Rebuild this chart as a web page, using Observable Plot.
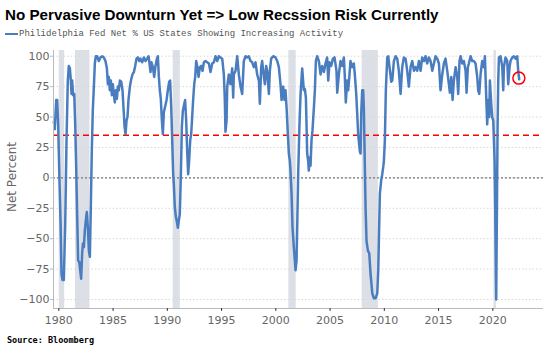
<!DOCTYPE html>
<html><head><meta charset="utf-8">
<script src="https://cdn.jsdelivr.net/npm/d3@7"></script>
<script src="https://cdn.jsdelivr.net/npm/@observablehq/plot@0.6"></script>
<style>
body{margin:0;background:#fff;}
#wrap{position:relative;width:550px;height:355px;overflow:hidden;background:#fff;}
#title{position:absolute;left:5px;top:6.7px;font:bold 15.2px "Liberation Sans",Arial,sans-serif;line-height:15px;color:#000;white-space:nowrap;}
#legend{position:absolute;left:5px;top:28px;height:12px;display:flex;align-items:center;font:9px "Liberation Mono",monospace;color:#555;white-space:nowrap;}
#legend .sw{width:13px;height:2.5px;background:#4a7dbf;margin-right:1px;}
#ylabel{position:absolute;left:12px;top:177px;transform:translate(-50%,-50%) rotate(-90deg);font:12px "DejaVu Sans",sans-serif;color:#666;white-space:nowrap;}
#source{position:absolute;left:7px;top:335px;font:bold 8.5px "DejaVu Sans Mono",monospace;line-height:10px;color:#000;white-space:nowrap;}
#chart{position:absolute;left:0;top:40px;}
</style></head>
<body>
<div id="wrap">
  <div id="title">No Pervasive Downturn Yet =&gt; Low Recssion Risk Currently</div>
  <div id="legend"><span class="sw"></span><span>Philidelphia Fed Net % US States Showing Increasing Activity</span></div>
  <div id="ylabel">Net Percent</div>
  <div id="chart"></div>
  <div id="source">Source: Bloomberg</div>
</div>
<script>
// ---- Data (decimal years, net percent) ----
const years1979_1993 = [1979.54,1979.63,1979.76,1979.85,1979.94,1980.06,1980.16,1980.25,1980.34,1980.46,1980.59,1980.71,1980.83,1980.92,1981.02,1981.11,1981.17,1981.23,1981.32,1981.42,1981.51,1981.60,1981.69,1981.78,1981.88,1981.97,1982.06,1982.15,1982.22,1982.31,1982.40,1982.49,1982.58,1982.68,1982.77,1982.86,1982.95,1983.04,1983.13,1983.23,1983.32,1983.41,1983.53,1983.69,1983.84,1984.00,1984.15,1984.30,1984.43,1984.52,1984.61,1984.70,1984.80,1984.89,1984.98,1985.07,1985.16,1985.26,1985.35,1985.44,1985.53,1985.63,1985.75,1985.87,1985.96,1986.06,1986.15,1986.24,1986.33,1986.42,1986.55,1986.67,1986.79,1986.92,1987.04,1987.16,1987.28,1987.41,1987.53,1987.68,1987.84,1987.99,1988.14,1988.27,1988.36,1988.45,1988.54,1988.67,1988.79,1988.91,1989.04,1989.13,1989.22,1989.31,1989.40,1989.50,1989.59,1989.68,1989.81,1989.93,1990.05,1990.17,1990.26,1990.36,1990.45,1990.54,1990.60,1990.69,1990.79,1990.88,1990.97,1991.06,1991.15,1991.25,1991.34,1991.43,1991.52,1991.64,1991.74,1991.83,1991.92,1992.01,1992.11,1992.20,1992.29,1992.38,1992.48,1992.57,1992.66,1992.75,1992.88,1993.00,1993.12,1993.25,1993.37,1993.52,1993.67,1993.83,1993.98];
const values1979_1993 = [46,40,64,64,44,-2,-37,-79,-84,-84,-38,31,80,92,90,80,69,80,68,69,44,9,-30,-68,-69,-76,-83,-62,-54,-57,-43,-35,-28,-41,-60,-65,-24,22,55,75,94,100,100,96,99,100,99,96,90,77,83,72,80,68,77,69,62,72,65,75,72,80,79,72,58,42,36,47,50,64,75,81,85,87,92,98,99,96,98,95,99,96,98,100,94,87,95,91,83,92,98,100,83,72,65,47,36,54,59,64,72,79,80,58,31,3,-5,-24,-32,-36,-41,-35,-30,3,42,55,59,64,47,22,3,14,31,36,50,64,77,83,96,92,83,91,92,88,95,96,95,94,87];

const years1994_2008 = [1994.14,1994.29,1994.44,1994.60,1994.75,1994.90,1995.06,1995.21,1995.30,1995.36,1995.46,1995.52,1995.67,1995.82,1995.98,1996.07,1996.13,1996.29,1996.44,1996.59,1996.75,1996.90,1997.05,1997.21,1997.36,1997.51,1997.67,1997.82,1997.98,1998.13,1998.28,1998.44,1998.53,1998.65,1998.74,1998.90,1998.99,1999.11,1999.20,1999.36,1999.45,1999.57,1999.76,1999.97,2000.13,2000.28,2000.43,2000.53,2000.68,2000.80,2000.89,2000.99,2001.11,2001.20,2001.29,2001.35,2001.45,2001.54,2001.66,2001.82,2001.91,2001.97,2002.06,2002.18,2002.28,2002.43,2002.58,2002.68,2002.77,2002.83,2002.89,2002.98,2003.04,2003.14,2003.20,2003.29,2003.38,2003.51,2003.60,2003.69,2003.81,2003.97,2004.12,2004.27,2004.43,2004.58,2004.73,2004.83,2004.95,2005.10,2005.26,2005.41,2005.59,2005.66,2005.81,2005.96,2006.12,2006.27,2006.36,2006.45,2006.58,2006.67,2006.79,2006.88,2007.04,2007.19,2007.28,2007.41,2007.50,2007.59,2007.74,2007.81,2007.87,2007.96,2008.05,2008.11];
const values1994_2008 = [94,95,100,96,100,99,98,85,64,38,47,75,85,77,90,66,85,88,100,85,75,69,96,100,99,100,96,95,91,95,85,80,61,91,96,83,77,92,88,69,88,98,100,99,96,91,77,64,75,64,72,58,36,20,14,6,-13,-41,-57,-76,-68,-41,3,44,69,90,72,73,66,44,20,14,6,17,10,31,39,58,72,96,100,96,85,92,87,94,99,80,95,92,98,99,88,70,85,96,92,99,83,62,80,72,85,96,91,94,85,69,53,36,22,20,53,72,72,58];

const years2008_2022 = [2008.27,2008.36,2008.49,2008.61,2008.73,2008.89,2009.04,2009.19,2009.35,2009.44,2009.53,2009.59,2009.71,2009.81,2009.90,2009.96,2010.05,2010.14,2010.27,2010.36,2010.48,2010.64,2010.73,2010.88,2011.04,2011.19,2011.34,2011.50,2011.65,2011.80,2011.96,2012.11,2012.26,2012.42,2012.57,2012.73,2012.88,2013.03,2013.19,2013.34,2013.49,2013.65,2013.80,2013.95,2014.11,2014.26,2014.42,2014.57,2014.72,2014.88,2015.03,2015.18,2015.34,2015.49,2015.64,2015.80,2015.95,2016.04,2016.17,2016.29,2016.41,2016.57,2016.72,2016.81,2016.93,2017.03,2017.18,2017.33,2017.49,2017.58,2017.70,2017.79,2017.95,2018.10,2018.26,2018.41,2018.56,2018.65,2018.75,2018.87,2019.02,2019.18,2019.27,2019.36,2019.48,2019.58,2019.67,2019.73,2019.85,2019.94,2020.04,2020.10,2020.16,2020.22,2020.28,2020.31,2020.38,2020.44,2020.50,2020.56,2020.71,2020.87,2020.96,2021.02,2021.17,2021.33,2021.42,2021.54,2021.63,2021.79,2021.94,2022.10,2022.25,2022.34,2022.43];
const values2008_2022 = [-24,-52,-60,-62,-79,-95,-99,-99,-95,-76,-38,-13,-2,3,9,14,31,72,99,100,91,79,80,96,100,98,88,69,91,99,98,88,75,91,96,88,91,88,96,88,99,96,100,94,99,96,88,94,100,98,94,72,85,94,98,88,77,70,83,64,80,91,83,69,96,100,94,96,88,70,91,94,100,96,96,94,83,72,69,85,96,91,100,75,44,64,50,80,61,50,47,31,14,-24,-79,-100,-24,44,80,99,100,91,72,91,99,96,77,91,96,99,100,98,100,88,81];

// NBER recessions (start, end as decimal years)
const recessionStarts = [1980.04, 1981.54, 1990.54, 2001.20, 2007.96, 2020.10];
const recessionEnds   = [1980.54, 1982.87, 1991.20, 2001.88, 2009.45, 2020.33];

const thresholdLevel = [35];
const zeroLevel = [0];
const highlightYear = [2022.40];
const highlightValue = [82];

const xTicks = [1980, 1985, 1990, 1995, 2000, 2005, 2010, 2015, 2020];
const yTicks = [-100, -75, -50, -25, 0, 25, 50, 75, 100];

// ---- Build tables ----
const years = [...years1979_1993, ...years1994_2008, ...years2008_2022];
const values = [...values1979_1993, ...values1994_2008, ...values2008_2022];
if (years1979_1993.length !== values1979_1993.length) throw new Error("seg1 " + years1979_1993.length + " vs " + values1979_1993.length);
if (years1994_2008.length !== values1994_2008.length) throw new Error("seg2 " + years1994_2008.length + " vs " + values1994_2008.length);
if (years2008_2022.length !== values2008_2022.length) throw new Error("seg3 " + years2008_2022.length + " vs " + values2008_2022.length);

const series = years.map((y, i) => ({year: y, value: values[i]}));
const recessions = recessionStarts.map((s, i) => ({start: s, end: recessionEnds[i]}));
const highlight = highlightYear.map((y, i) => ({year: y, value: highlightValue[i]}));

const xDomain = [1979.51, 2024.67];
const yDomain = [-107.4, 104.7];

const chart = Plot.plot({
  width: 550,
  height: 290,
  marginTop: 10,
  marginBottom: 22,
  marginLeft: 53,
  marginRight: 7,
  style: {fontFamily: "DejaVu Sans, sans-serif", fontSize: "11px", color: "#666", background: "transparent"},
  x: {domain: xDomain, label: null},
  y: {domain: yDomain, label: null},
  marks: [
    Plot.rect(recessions, {x1: "start", x2: "end", fill: "#dcdfe5"}),
    Plot.ruleY(yTicks, {stroke: "#d9d9d9", strokeDasharray: "1.5,2"}),
    Plot.ruleY(thresholdLevel, {stroke: "#ff0000", strokeWidth: 1.6, strokeDasharray: "6,4"}),
    Plot.ruleY(zeroLevel, {stroke: "#777", strokeWidth: 1.2, strokeDasharray: "2,2"}),
    Plot.line(series, {x: "year", y: "value", stroke: "#4a7dbf", strokeWidth: 2.5, strokeLinejoin: "round"}),
    Plot.dot(highlight, {x: "year", y: "value", r: 6, stroke: "#ff0000", strokeWidth: 1.5, fill: "none"}),
    Plot.ruleX([xDomain[0]], {stroke: "#bbb"}),
    Plot.ruleY([yDomain[0]], {stroke: "#bbb"}),
    Plot.axisX({ticks: xTicks, tickFormat: d => String(d), tickSize: 3, tickPadding: 4.5, stroke: "#333", fill: "#666", label: null}),
    Plot.axisY({ticks: yTicks, tickSize: 3, tickPadding: 1, stroke: "#bbb", fill: "#666", label: null})
  ]
});
document.getElementById("chart").appendChild(chart);
</script>
</body></html>
